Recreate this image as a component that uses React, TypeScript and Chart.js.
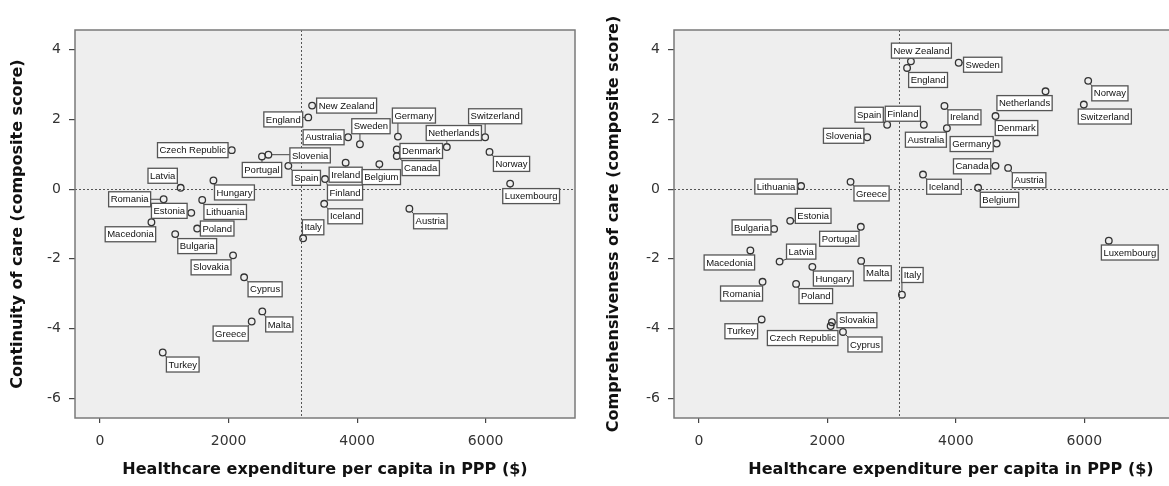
import React, { useEffect, useRef } from "react";
import { Chart, registerables } from "chart.js";
Chart.register(...registerables);

const countries = ["New Zealand","England","Czech Republic","Portugal","Slovenia","Spain","Latvia","Hungary","Romania","Estonia","Lithuania","Macedonia","Poland","Bulgaria","Italy","Slovakia","Cyprus","Malta","Greece","Turkey","Australia","Sweden","Germany","Switzerland","Netherlands","Denmark","Canada","Norway","Ireland","Belgium","Finland","Iceland","Austria","Luxembourg"];

const expenditure = [3300,3240,2050,2520,2620,2930,1255,1765,990,1420,1590,800,1512,1170,3160,2070,2242,2525,2360,976,3860,4044,4635,5992,5396,4617,4617,6060,3822,4346,3501,3488,4813,6381];

const continuity = [2.4,2.06,1.12,0.94,0.99,0.67,0.04,0.25,-0.29,-0.68,-0.31,-0.95,-1.13,-1.29,-1.41,-1.9,-2.53,-3.51,-3.8,-4.69,1.49,1.29,1.51,1.49,1.21,1.14,0.95,1.07,0.76,0.72,0.29,-0.42,-0.56,0.16];

const comprehensiveness = [3.67,3.48,-3.93,-1.08,1.49,1.85,-2.08,-2.23,-2.66,-0.91,0.09,-1.76,-2.72,-1.14,-3.03,-3.82,-4.1,-2.06,0.21,-3.74,1.75,3.63,1.31,2.43,2.81,2.1,0.67,3.11,2.39,0.04,1.85,0.42,0.61,-1.48];

const xTickValues = [0, 2000, 4000, 6000];
const yTickValues = [-6, -4, -2, 0, 2, 4];

const meanExpenditure = 3120;
const meanScore = 0;

const xTitle = "Healthcare expenditure per capita in PPP ($)";
const yTitleLeft = "Continuity of care (composite score)";
const yTitleRight = "Comprehensiveness of care (composite score)";

// label box placement (box centre offset from point, px)
const leftDx = [34.5,-25,-39,0,41.7,18,-18,21,-34,-22,23,-21,20,22,10,-22,21,17,-21,20,-24.5,11,16,10,7,24.5,24,22,0,2,20,21,21,21];
const leftDy = [0,2,0,13.5,0.7,12,-12,12,0,-2,12,12,0,12,-11,12,12,13,12,12,0,-18,-21,-21,-14,1.5,12,12,12,13,13.5,12.5,12.6,12.5];
const rightDx = [10.5,21,-28,-21.5,-23.6,-18,21.6,21,-21,23,-25,-21,19.7,-22.6,10.5,25,22,16.5,21,-20.4,-21,24,-25,21,-21,21,-23.4,21.7,20,21.4,-21,21,21,21];
const rightDy = [-10.7,12,12,12,-1.5,-10,-10,11.7,11.7,-5,0.5,12,12.2,-1.5,-19.7,-2,12.5,12.3,11.6,11.8,11.5,2,0.5,12,11.8,12,0.5,12.5,11.4,12,-11,12.2,12.3,11.8];

const R = 3.3;

function makePlugin(names: string[], dxs: number[], dys: number[]) {
  return {
    id: "decor",
    beforeDraw(chart: any) {
      const { ctx, chartArea: a } = chart;
      ctx.save();
      ctx.fillStyle = "#eeeeee";
      ctx.fillRect(a.left, a.top, a.right - a.left, a.bottom - a.top);
      ctx.restore();
    },
    beforeDatasetsDraw(chart: any) {
      const { ctx, chartArea: a, scales } = chart;
      const xp = scales.x.getPixelForValue(meanExpenditure);
      const yp = scales.y.getPixelForValue(meanScore);
      ctx.save();
      ctx.strokeStyle = "#555";
      ctx.lineWidth = 1;
      ctx.setLineDash([2, 2]);
      ctx.beginPath();
      ctx.moveTo(Math.round(xp) + 0.5, a.top);
      ctx.lineTo(Math.round(xp) + 0.5, a.bottom);
      ctx.moveTo(a.left, Math.round(yp) + 0.5);
      ctx.lineTo(a.right, Math.round(yp) + 0.5);
      ctx.stroke();
      ctx.restore();
    },
    afterDatasetsDraw(chart: any) {
      const ctx = chart.ctx;
      const meta = chart.getDatasetMeta(0);
      ctx.save();
      ctx.font = '9.5px "Liberation Sans", Arial, sans-serif';
      ctx.textAlign = "center";
      ctx.textBaseline = "middle";
      meta.data.forEach((el: any, i: number) => {
        const px = el.x, py = el.y;
        const w = ctx.measureText(names[i]).width + 4;
        const h = 15;
        const cx = px + dxs[i], cy = py + dys[i];
        const l = cx - w / 2, t = cy - h / 2, r = l + w, b = t + h;
        const qx = Math.min(Math.max(px, l), r), qy = Math.min(Math.max(py, t), b);
        const d = Math.hypot(qx - px, qy - py);
        if (d > R + 1) {
          ctx.beginPath();
          ctx.moveTo(px + ((qx - px) / d) * R, py + ((qy - py) / d) * R);
          ctx.lineTo(qx, qy);
          ctx.strokeStyle = "#444";
          ctx.lineWidth = 1;
          ctx.stroke();
        }
        ctx.fillStyle = "#fff";
        ctx.fillRect(l, t, w, h);
        ctx.strokeStyle = "#555";
        ctx.lineWidth = 1.3;
        ctx.strokeRect(l, t, w, h);
        ctx.fillStyle = "#111";
        ctx.fillText(names[i], cx, cy + 0.5);
      });
      ctx.restore();
    },
    afterDraw(chart: any) {
      const { ctx, chartArea: a } = chart;
      ctx.save();
      ctx.strokeStyle = "#7a7a7a";
      ctx.lineWidth = 1.5;
      ctx.strokeRect(a.left, a.top, a.right - a.left, a.bottom - a.top);
      ctx.restore();
    },
  };
}

function buildChart(canvas: HTMLCanvasElement, yVals: number[], yTitle: string, xMax: number, dxs: number[], dys: number[], titlePadTop: number) {
  const data = expenditure.map((x, i) => ({ x, y: yVals[i] }));
  const tickFont = { family: '"DejaVu Sans", Verdana, sans-serif', size: 14 };
  const titleFont = { family: '"DejaVu Sans", Verdana, sans-serif', size: 16, weight: "bold" as const };
  return new Chart(canvas, {
    type: "scatter",
    data: {
      datasets: [
        {
          data,
          pointRadius: R,
          pointBorderWidth: 1.3,
          pointBorderColor: "#333",
          pointBackgroundColor: "rgba(0,0,0,0)",
          pointHoverRadius: R,
        },
      ],
    },
    options: {
      animation: false,
      responsive: false,
      maintainAspectRatio: false,
      events: [],
      layout: { padding: { left: 0, top: 30, right: 15, bottom: 0 } },
      plugins: { legend: { display: false }, tooltip: { enabled: false } },
      scales: {
        x: {
          type: "linear",
          min: -389,
          max: xMax,
          afterFit: (s: any) => { s.height = 68; },
          afterBuildTicks: (s: any) => { s.ticks = xTickValues.map((v) => ({ value: v })); },
          ticks: { font: tickFont, color: "#333", padding: 10, maxRotation: 0, autoSkip: false, callback: (v: any) => String(v) },
          grid: { drawOnChartArea: false, drawTicks: true, tickLength: 5, color: "#444", lineWidth: 1.2 },
          border: { display: false },
          title: { display: true, text: xTitle, font: titleFont, color: "#111", padding: { top: 0, bottom: 6.4 } },
        },
        y: {
          type: "linear",
          min: -6.57,
          max: 4.57,
          afterFit: (s: any) => { s.width = 75; },
          afterBuildTicks: (s: any) => { s.ticks = yTickValues.map((v) => ({ value: v })); },
          ticks: { font: tickFont, color: "#333", padding: 8, autoSkip: false, callback: (v: any) => String(v) },
          grid: { drawOnChartArea: false, drawTicks: true, tickLength: 6, color: "#444", lineWidth: 1.2 },
          border: { display: false },
          title: { display: true, text: yTitle, font: titleFont, color: "#111", padding: { top: titlePadTop, bottom: 0 } },
        },
      },
    } as any,
    plugins: [makePlugin(countries, dxs, dys)],
  });
}

export default function App() {
  const leftRef = useRef<HTMLCanvasElement>(null);
  const rightRef = useRef<HTMLCanvasElement>(null);
  useEffect(() => {
    const c1 = buildChart(leftRef.current!, continuity, yTitleLeft, 7390, leftDx, leftDy, 8.4);
    const c2 = buildChart(rightRef.current!, comprehensiveness, yTitleRight, 8237, rightDx, rightDy, 5.4);
    return () => { c1.destroy(); c2.destroy(); };
  }, []);
  return (
    <div style={{ position: "fixed", left: 0, top: 0, width: 1169, height: 486, overflow: "hidden", background: "#fff" }}>
      <canvas ref={leftRef} width={590} height={486} style={{ position: "absolute", left: 0, top: 0, width: 590, height: 486 }} />
      <canvas ref={rightRef} width={644} height={486} style={{ position: "absolute", left: 599, top: 0, width: 644, height: 486 }} />
    </div>
  );
}
